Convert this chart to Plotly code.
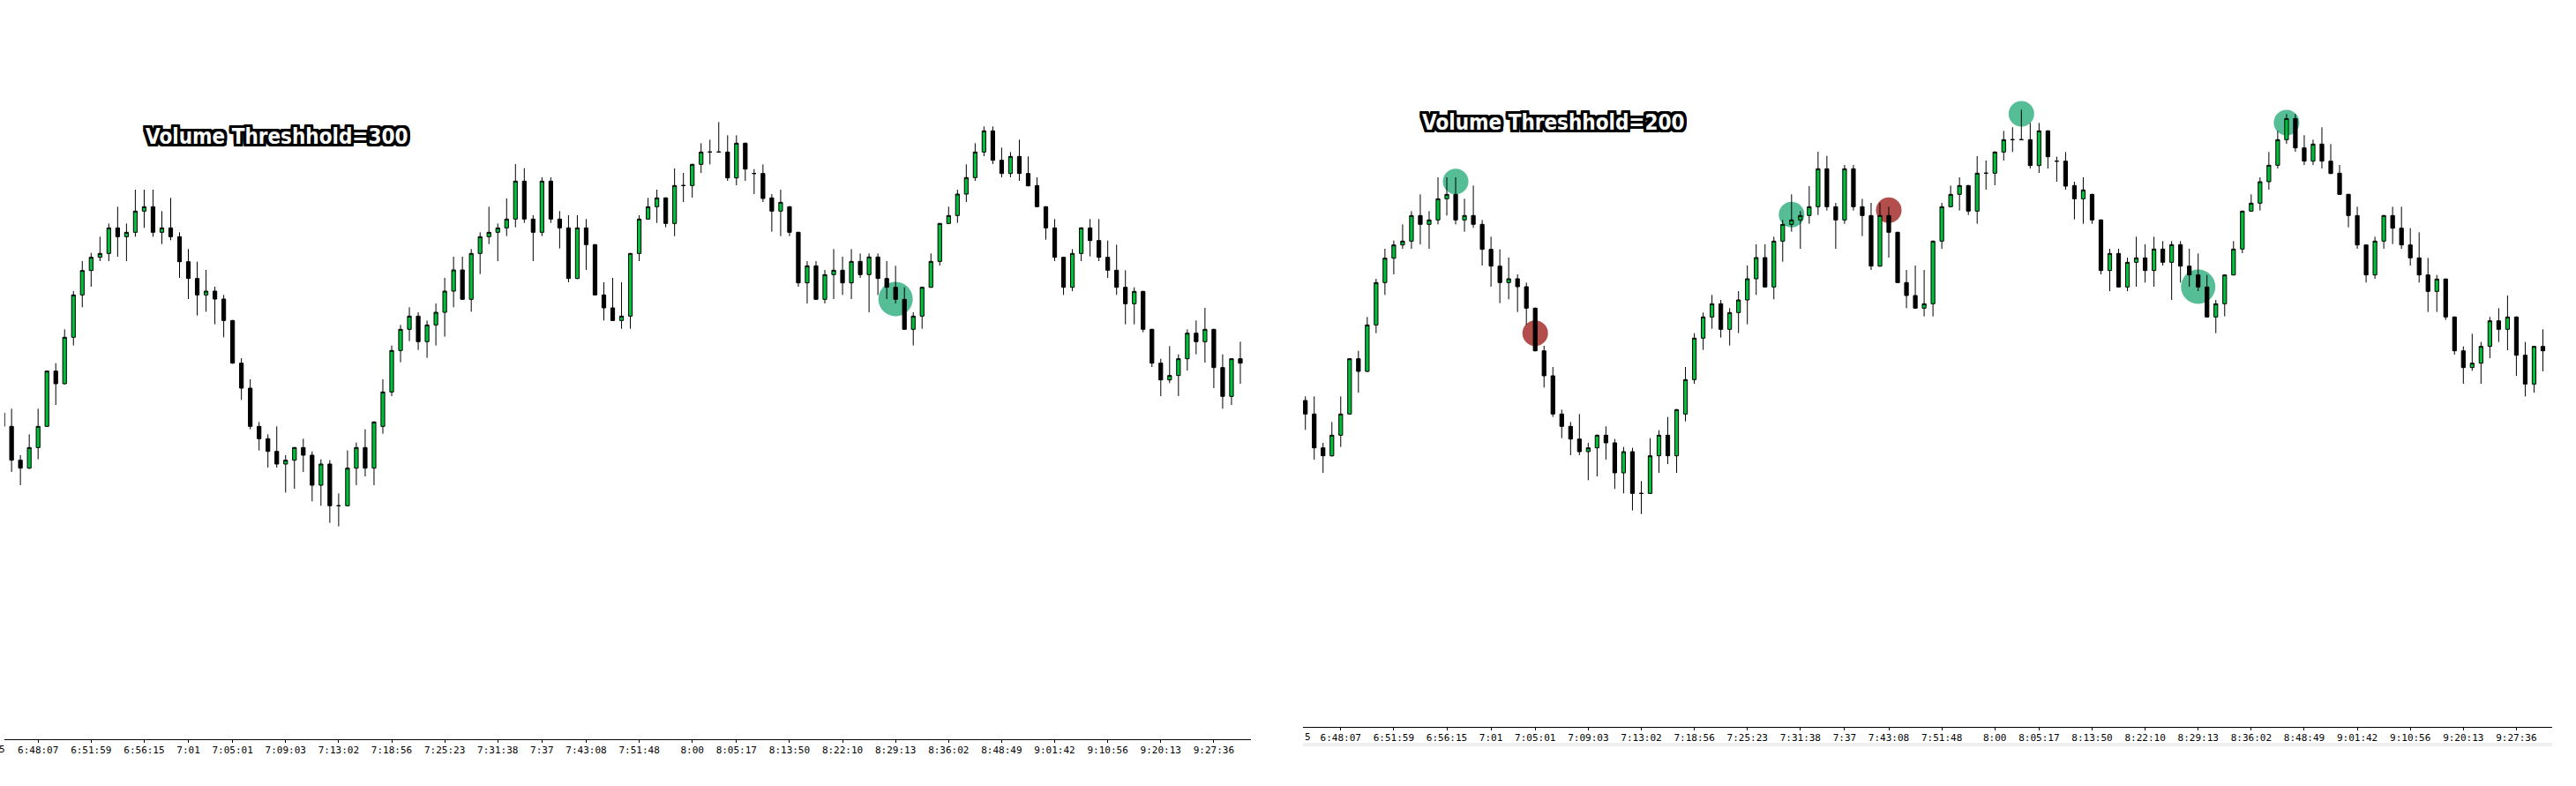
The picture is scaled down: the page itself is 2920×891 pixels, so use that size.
import plotly.graph_objects as go

W, H = 2920, 891

# candle data (bar number 1..141, prices in points)
bars = list(range(1, 142))

opens = [396, 350, 235, 208, 278, 350, 538, 495, 653, 797,
         880, 925, 938, 1025, 995, 1010, 1082, 1097, 1010, 1025,
         995, 910, 853, 797, 810, 783, 710, 565, 480, 350,
         308, 265, 222, 235, 278, 252, 150, 222, 80, 80,
         208, 278, 208, 350, 467, 608, 680, 725, 638, 695,
         738, 810, 882, 782, 938, 995, 1010, 1025, 1055, 1184,
         1055, 1010, 1184, 1055, 1025, 853, 1025, 968, 797, 753,
         710, 725, 938, 1055, 1097, 1127, 1040, 1169, 1169, 1241,
         1283, 1283, 1283, 1195, 1313, 1210, 1210, 1127, 1082, 1097,
         1010, 838, 896, 782, 866, 881, 838, 911, 866, 926,
         853, 823, 782, 680, 725, 823, 911, 1040, 1067, 1140,
         1196, 1283, 1355, 1255, 1210, 1268, 1210, 1169, 1097, 1025,
         925, 823, 938, 1025, 982, 925, 881, 823, 767, 809,
         680, 565, 508, 523, 580, 667, 638, 680, 550, 452,
         580]

highs = [410, 410, 252, 323, 410, 540, 565, 680, 810, 912,
         940, 995, 1040, 1097, 1040, 1155, 1155, 1155, 1082, 1127,
         1010, 953, 910, 882, 825, 797, 712, 582, 510, 365,
         323, 350, 252, 280, 308, 265, 238, 235, 122, 268,
         295, 340, 367, 510, 625, 695, 755, 738, 710, 768,
         855, 927, 927, 953, 1010, 1097, 1040, 1125, 1242, 1228,
         1068, 1197, 1197, 1082, 1068, 1068, 1055, 970, 840, 855,
         840, 940, 1068, 1127, 1155, 1129, 1227, 1212, 1243, 1313,
         1325, 1385, 1340, 1340, 1315, 1225, 1241, 1140, 1155, 1099,
         1012, 912, 912, 882, 953, 927, 953, 938, 938, 938,
         912, 896, 823, 738, 825, 938, 1042, 1097, 1155, 1241,
         1313, 1370, 1370, 1298, 1283, 1325, 1268, 1197, 1099, 1055,
         927, 953, 1027, 1055, 1055, 982, 968, 881, 823, 811,
         682, 580, 623, 595, 680, 710, 753, 682, 595, 582,
         638]

lows = [296, 195, 150, 205, 238, 348, 423, 493, 625, 755,
        825, 912, 912, 927, 912, 995, 1025, 995, 970, 983,
        855, 783, 727, 740, 697, 653, 563, 440, 340, 268,
        210, 210, 125, 138, 195, 95, 80, 22, 10, 78,
        150, 180, 150, 325, 453, 568, 640, 610, 583, 625,
        655, 755, 780, 740, 868, 970, 912, 997, 1027, 1042,
        912, 997, 1042, 955, 840, 851, 882, 795, 710, 708,
        682, 682, 912, 1053, 1042, 1027, 997, 1113, 1128, 1212,
        1241, 1281, 1185, 1170, 1185, 1140, 1113, 1012, 997, 997,
        825, 768, 780, 768, 783, 797, 783, 855, 738, 797,
        783, 768, 678, 625, 682, 821, 897, 1038, 1042, 1113,
        1185, 1269, 1242, 1197, 1197, 1185, 1166, 1095, 985, 912,
        797, 810, 912, 928, 912, 855, 797, 697, 697, 670,
        552, 453, 497, 453, 540, 595, 567, 480, 410, 423,
        495]

closes = [350, 235, 208, 278, 350, 538, 495, 653, 797, 880,
          925, 938, 1025, 995, 1010, 1082, 1097, 1010, 1025, 995,
          910, 853, 797, 810, 783, 710, 565, 480, 350, 308,
          265, 222, 235, 278, 252, 150, 222, 80, 80, 208,
          278, 208, 365, 467, 608, 680, 725, 638, 695, 738,
          810, 882, 782, 938, 995, 1010, 1025, 1055, 1184, 1055,
          1010, 1184, 1055, 1025, 853, 1025, 968, 797, 753, 710,
          725, 938, 1055, 1097, 1127, 1040, 1169, 1169, 1241, 1283,
          1283, 1283, 1195, 1313, 1225, 1210, 1125, 1082, 1112, 1010,
          838, 896, 782, 866, 881, 838, 911, 866, 926, 853,
          823, 782, 680, 725, 823, 911, 1040, 1067, 1140, 1196,
          1283, 1355, 1255, 1210, 1268, 1210, 1168, 1097, 1025, 925,
          823, 938, 1025, 982, 925, 881, 823, 767, 809, 680,
          565, 508, 523, 580, 667, 638, 680, 550, 452, 580,
          565]

# time axis labels and the bars they sit on
tick_bars = [5, 11, 17, 22, 27, 33, 39, 45, 51, 57, 62, 67,
             73, 79, 84, 90, 96, 102, 108, 114, 120, 126, 132, 138]
tick_labels = ["6:48:07", "6:51:59", "6:56:15", "7:01", "7:05:01", "7:09:03",
               "7:13:02", "7:18:56", "7:25:23", "7:31:38", "7:37", "7:43:08",
               "7:51:48", "8:00", "8:05:17", "8:13:50", "8:22:10", "8:29:13",
               "8:36:02", "8:48:49", "9:01:42", "9:10:56", "9:20:13", "9:27:36"]

# volume signals: bar, price level, side
sig300_bars = [102]
sig300_prices = [783]
sig300_sides = ["buy"]

sig200_bars = [18, 27, 56, 67, 82, 102, 112]
sig200_prices = [1141, 625, 1028, 1043, 1371, 783, 1341]
sig200_sides = ["buy", "sell", "buy", "sell", "buy", "buy", "buy"]

titles = ["Volume Threshhold=300", "Volume Threshhold=200"]

GREEN = "#00BF3A"
SIDE_COLORS = {"buy": "#55BE96", "sell": "#B24F4C"}


def px_x(p):
    return p / W


def px_y(p):
    return 1 - p / H


fig = go.Figure()

for xa, ya in (("x", "y"), ("x2", "y2")):
    fig.add_trace(go.Candlestick(
        x=bars, open=opens, high=highs, low=lows, close=closes,
        xaxis=xa, yaxis=ya, whiskerwidth=0,
        increasing=dict(fillcolor=GREEN, line=dict(color="black", width=1)),
        decreasing=dict(fillcolor="black", line=dict(color="black", width=1)),
        showlegend=False, hoverinfo="skip",
    ))

shapes = []
panels = [("x", "y", sig300_bars, sig300_prices, sig300_sides),
          ("x2", "y2", sig200_bars, sig200_prices, sig200_sides)]
for xr, yr, sb, sp, ss in panels:
    for b, p, s in zip(sb, sp, ss):
        r = 19.5 if b in sig300_bars else 14.5
        shapes.append(dict(
            type="circle", xref=xr, yref=yr, layer="below",
            xsizemode="pixel", xanchor=b, x0=-r, x1=r,
            ysizemode="pixel", yanchor=p, y0=-r, y1=r,
            fillcolor=SIDE_COLORS[s], line=dict(width=0),
        ))

# faint strip under the right axis
shapes.append(dict(type="rect", xref="paper", yref="paper", layer="below",
                   x0=px_x(1477), x1=px_x(2893), y0=px_y(846), y1=px_y(842),
                   fillcolor="#efefef", line=dict(width=0)))

axis_font = dict(family="DejaVu Sans Mono", size=11, color="black")
xcommon = dict(
    tickmode="array", tickvals=tick_bars, ticktext=tick_labels,
    ticks="outside", ticklen=3, tickcolor="black", tickwidth=1,
    ticklabelstandoff=-1,
    showline=True, linecolor="black", linewidth=1,
    showgrid=False, zeroline=False, rangeslider=dict(visible=False),
    tickfont=axis_font,
)
ycommon = dict(visible=False, showgrid=False, zeroline=False)

outline = ", ".join(f"{dx}px {dy}px 0 #000" for dx in (-3, -2, -1, 0, 1, 2, 3)
                    for dy in (-3, -2, -1, 0, 1, 2, 3) if dx or dy)
title_font = dict(family="Liberation Sans Narrow, DejaVu Sans Condensed, Roboto, sans-serif",
                  size=24, color="white", weight="bold", shadow=outline)

annotations = [
    dict(text=titles[0], xref="paper", yref="paper", x=px_x(314), y=px_y(155),
         xanchor="center", yanchor="middle", showarrow=False, font=title_font),
    dict(text=titles[1], xref="paper", yref="paper", x=px_x(1761), y=px_y(139),
         xanchor="center", yanchor="middle", showarrow=False, font=title_font),
    dict(text="5", xref="paper", yref="paper", x=px_x(2), y=px_y(849),
         xanchor="center", yanchor="middle", showarrow=False, font=axis_font),
    dict(text="5", xref="paper", yref="paper", x=px_x(1477), y=px_y(835),
         xanchor="left", yanchor="middle", showarrow=False, font=axis_font),
]

fig.update_layout(
    width=W, height=H,
    margin=dict(l=0, r=0, t=0, b=0),
    paper_bgcolor="white", plot_bgcolor="white",
    boxgap=0.4,
    xaxis=dict(domain=[px_x(5), px_x(1418)], range=[1.19, 142.2], anchor="y", **xcommon),
    yaxis=dict(domain=[px_y(838), 1], range=[-714, 1800], anchor="x", **ycommon),
    xaxis2=dict(domain=[px_x(1477), px_x(2893)], range=[0.73, 142.05], anchor="y2", **xcommon),
    yaxis2=dict(domain=[px_y(824), 1], range=[-714, 1758], anchor="x2", **ycommon),
    shapes=shapes,
    annotations=annotations,
    showlegend=False,
)

fig.write_html("out.html", config={"displayModeBar": False},
               post_script="document.body.style.margin='0';")
